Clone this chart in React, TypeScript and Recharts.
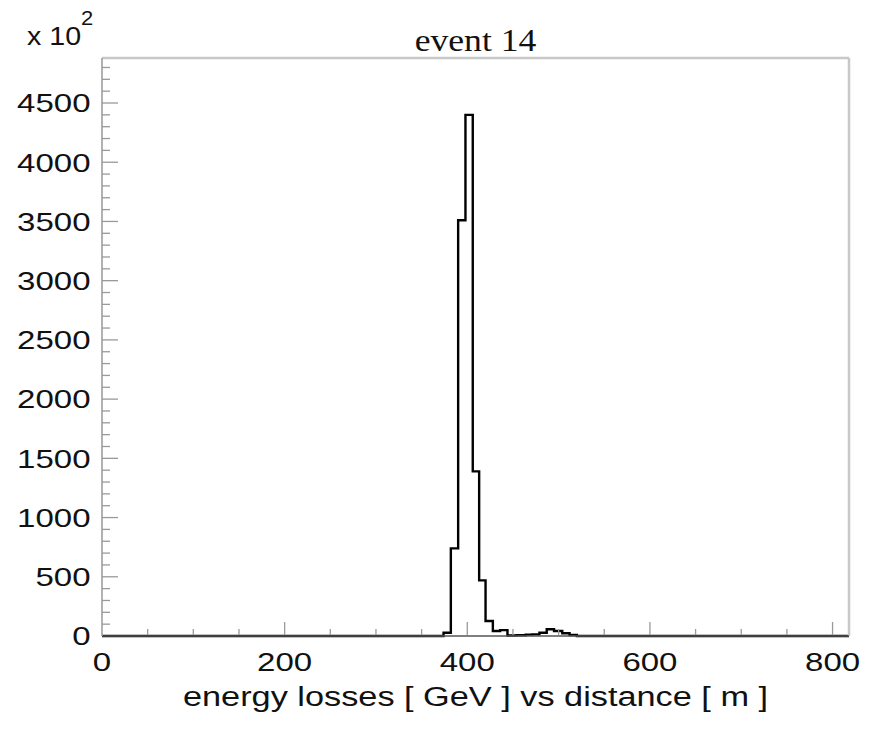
import React from "react";
import { LineChart, Line, XAxis, YAxis } from "recharts";

// histogram bin left edges (m) and bin contents (x 10^2 GeV)
const binEdges = [0, 374, 382, 390, 398, 406, 413, 420, 428, 436, 444, 454, 464, 471, 479, 487, 495, 504, 512, 520, 818];
const counts = [0, 28, 740, 3510, 4400, 1390, 470, 127, 42, 50, 4, 6, 12, 14, 28, 57, 42, 23, 8, 0, 0];

const xTicks = [0, 50, 100, 150, 200, 250, 300, 350, 400, 450, 500, 550, 600, 650, 700, 750, 800];
const xMajor = [0, 200, 400, 600, 800];
const yTicks = [0, 100, 200, 300, 400, 500, 600, 700, 800, 900, 1000, 1100, 1200, 1300, 1400, 1500, 1600, 1700, 1800, 1900, 2000, 2100, 2200, 2300, 2400, 2500, 2600, 2700, 2800, 2900, 3000, 3100, 3200, 3300, 3400, 3500, 3600, 3700, 3800, 3900, 4000, 4100, 4200, 4300, 4400, 4500, 4600, 4700, 4800];
const yMajor = [0, 500, 1000, 1500, 2000, 2500, 3000, 3500, 4000, 4500];

const titleText = "event 14";
const xTitle = "energy losses [ GeV ] vs distance [ m ]";
const multiplier = "x 10";
const exponent = "2";

const data = binEdges.map((x, i) => ({ x, v: counts[i] }));

const W = 877;
const H = 740;
const PL = 102;
const PR = 849;
const PT = 58;
const PB = 636;
const SX = 1.27;
const SANS = "'Liberation Sans', Arial, Helvetica, sans-serif";
const SERIF = "'Liberation Serif', 'Times New Roman', serif";
const TICK_COLOR = "#9a9a9a";

const YTick = (props: any) => {
  const { y, payload } = props;
  const v = payload.value;
  const major = yMajor.includes(v);
  return (
    <g>
      {v !== 0 && (
        <line x1={PL} x2={PL + (major ? 16 : 8)} y1={y} y2={y} stroke={TICK_COLOR} strokeWidth={1.3} />
      )}
      {major && (
        <text
          transform={`translate(${PL - 11.5},${y + 9.3}) scale(${SX},1)`}
          textAnchor="end"
          fontFamily={SANS}
          fontSize={26}
          fill="#111"
        >
          {v}
        </text>
      )}
    </g>
  );
};

const XTick = (props: any) => {
  const { x, payload } = props;
  const v = payload.value;
  const major = xMajor.includes(v);
  return (
    <g>
      {v !== 0 && (
        <line x1={x} x2={x} y1={PB - 1} y2={PB - (major ? 14 : 7)} stroke={TICK_COLOR} strokeWidth={1.3} />
      )}
      {major && (
        <text
          transform={`translate(${x},${671}) scale(${SX},1)`}
          textAnchor="middle"
          fontFamily={SANS}
          fontSize={26}
          fill="#111"
        >
          {v}
        </text>
      )}
    </g>
  );
};

export default function App() {
  return (
    <div style={{ position: "absolute", left: 0, top: 0, width: W, height: H, background: "#fff" }}>
      <LineChart width={W} height={H} data={data} margin={{ top: 0, right: 0, bottom: 0, left: 0 }}>
        <XAxis
          xAxisId="t"
          orientation="top"
          type="number"
          dataKey="x"
          domain={[0, 818]}
          height={PT}
          tick={false}
          tickLine={false}
          axisLine={{ stroke: "#c8c8c8", strokeWidth: 2.5 }}
        />
        <YAxis
          yAxisId="r"
          orientation="right"
          type="number"
          domain={[0, 4880]}
          width={W - PR}
          tick={false}
          tickLine={false}
          axisLine={{ stroke: "#c8c8c8", strokeWidth: 2.5 }}
        />
        <XAxis
          xAxisId="b"
          type="number"
          dataKey="x"
          domain={[0, 818]}
          ticks={xTicks}
          interval={0}
          height={H - PB}
          tickLine={false}
          tick={<XTick />}
          axisLine={{ stroke: "#555", strokeWidth: 1.5 }}
        />
        <YAxis
          yAxisId="l"
          type="number"
          domain={[0, 4880]}
          ticks={yTicks}
          interval={0}
          width={PL}
          tickLine={false}
          tick={<YTick />}
          axisLine={{ stroke: "#999", strokeWidth: 1.5 }}
        />
        <Line
          xAxisId="b"
          yAxisId="l"
          type="stepAfter"
          dataKey="v"
          stroke="#000"
          strokeWidth={2.4}
          dot={false}
          activeDot={false}
          isAnimationActive={false}
        />
      </LineChart>
      <svg width={W} height={H} style={{ position: "absolute", left: 0, top: 0, pointerEvents: "none" }}>
        <text
          transform={`translate(${(PL + PR) / 2},51) scale(1.15,1)`}
          textAnchor="middle"
          fontFamily={SERIF}
          fontSize={31}
          fill="#111"
        >
          {titleText}
        </text>
        <text transform={`translate(27,45) scale(1.1,1)`} fontFamily={SANS} fontSize={26} fill="#111">
          {multiplier}
        </text>
        <text transform={`translate(81,25) scale(1.1,1)`} fontFamily={SANS} fontSize={20} fill="#111">
          {exponent}
        </text>
        <text
          transform={`translate(${(PL + PR) / 2},706) scale(${SX},1)`}
          textAnchor="middle"
          fontFamily={SANS}
          fontSize={27}
          fill="#111"
        >
          {xTitle}
        </text>
      </svg>
    </div>
  );
}
